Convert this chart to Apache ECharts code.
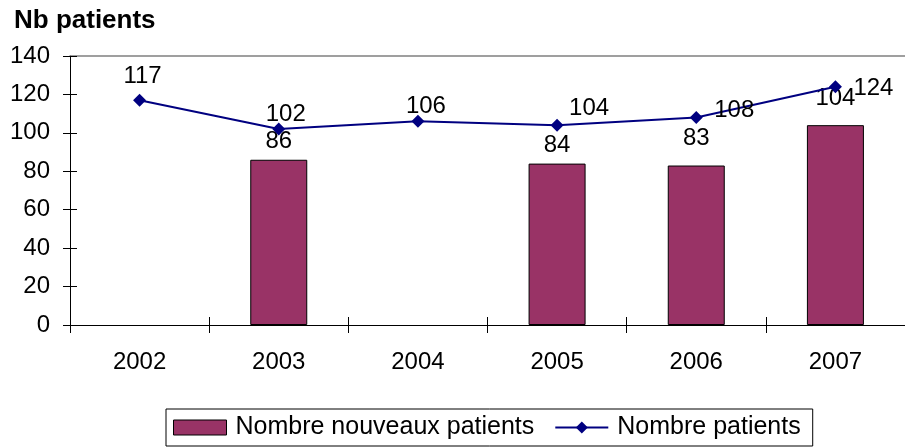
<!DOCTYPE html>
<html lang="en">
<head>
    <meta charset="utf-8">
</head>
<body style="margin:0;background:#fff;">
<div id="chart" style="width:905px; height:448px;"></div>
<script type="text/javascript" src="https://cdn.jsdelivr.net/npm/echarts@6/dist/echarts.min.js"></script>
<script type="text/javascript">
var years = ['2002', '2003', '2004', '2005', '2006', '2007'];
var nouveaux = [null, 86, null, 84, 83, 104];
var patients = [117, 102, 106, 104, 108, 124];
var yTicks = [0, 20, 40, 60, 80, 100, 120, 140];

var font = 'Liberation Sans, Arial, sans-serif';

// label placement tweaks, like in the excel original
var lineOffsets = [[3, 1], [7, 10], [8, 10], [32, 8], [38, 17], [38, 26]];
var barDistances = [6, 6, 6, 6, 15, 15];

var lineData = patients.map(function (v, i) {
    return { value: v, label: { offset: lineOffsets[i] } };
});
var barData = nouveaux.map(function (v, i) {
    return { value: v, label: { distance: barDistances[i] } };
});

var option = {
    backgroundColor: '#fff',
    animation: false,
    title: {
        text: 'Nb patients',
        left: 14,
        top: 8,
        padding: 0,
        textStyle: { fontFamily: font, fontSize: 26, fontWeight: 'bold', color: '#000' }
    },
    legend: {
        bottom: 2,
        left: 166,
        itemGap: 20,
        itemWidth: 53,
        itemHeight: 15,
        padding: [6, 12, 6, 7],
        borderColor: '#000',
        borderWidth: 1,
        borderRadius: 0,
        textStyle: { fontFamily: font, fontSize: 25, color: '#000', padding: [0, 0, 0, 4] },
        data: [
            { name: 'Nombre nouveaux patients', icon: 'rect', itemStyle: { borderColor: '#000', borderWidth: 1 } },
            { name: 'Nombre patients' }
        ]
    },
    grid: { left: 70, top: 56, width: 852, height: 269 },
    xAxis: [{
        type: 'category',
        data: years,
        boundaryGap: true,
        axisLine: { lineStyle: { color: '#000', width: 1 } },
        axisTick: { show: true, length: 8, lineStyle: { color: '#000' } },
        axisLabel: { fontFamily: font, fontSize: 24, color: '#000', margin: 25 }
    }, {
        type: 'category',
        data: years,
        position: 'bottom',
        boundaryGap: true,
        axisLine: { show: false },
        axisTick: { show: true, inside: true, length: 8, lineStyle: { color: '#000' } },
        axisLabel: { show: false }
    }, {
        type: 'category',
        data: years,
        position: 'top',
        axisLine: { lineStyle: { color: '#808080', width: 1.5 } },
        axisTick: { show: false },
        axisLabel: { show: false }
    }],
    yAxis: [{
        type: 'value',
        min: 0,
        max: 140,
        interval: 20,
        splitLine: { show: false },
        axisLine: { show: true, lineStyle: { color: '#000', width: 1 } },
        axisTick: { show: true, length: 7, lineStyle: { color: '#000' } },
        axisLabel: {
            fontFamily: font, fontSize: 24, color: '#000', margin: 20,
            formatter: function (v) { return yTicks.indexOf(v) >= 0 ? String(v) : ''; }
        }
    }, {
        type: 'value',
        min: 0,
        max: 140,
        interval: 20,
        position: 'left',
        splitLine: { show: false },
        axisLine: { show: false },
        axisTick: { show: true, inside: true, length: 7, lineStyle: { color: '#000' } },
        axisLabel: { show: false }
    }],
    series: [{
        name: 'Nombre nouveaux patients',
        type: 'bar',
        data: barData,
        barWidth: 57,
        itemStyle: { color: '#993366', borderColor: '#000', borderWidth: 1 },
        label: {
            show: true,
            position: 'top',
            fontFamily: font,
            fontSize: 24,
            color: '#000'
        }
    }, {
        name: 'Nombre patients',
        type: 'line',
        data: lineData,
        symbol: 'diamond',
        symbolSize: [13, 13],
        lineStyle: { color: '#000080', width: 2 },
        itemStyle: { color: '#000080' },
        label: {
            show: true,
            position: 'top',
            distance: 6,
            fontFamily: font,
            fontSize: 24,
            color: '#000'
        }
    }]
};

var myChart = echarts.init(document.getElementById('chart'));
myChart.setOption(option);
</script>
</body>
</html>
